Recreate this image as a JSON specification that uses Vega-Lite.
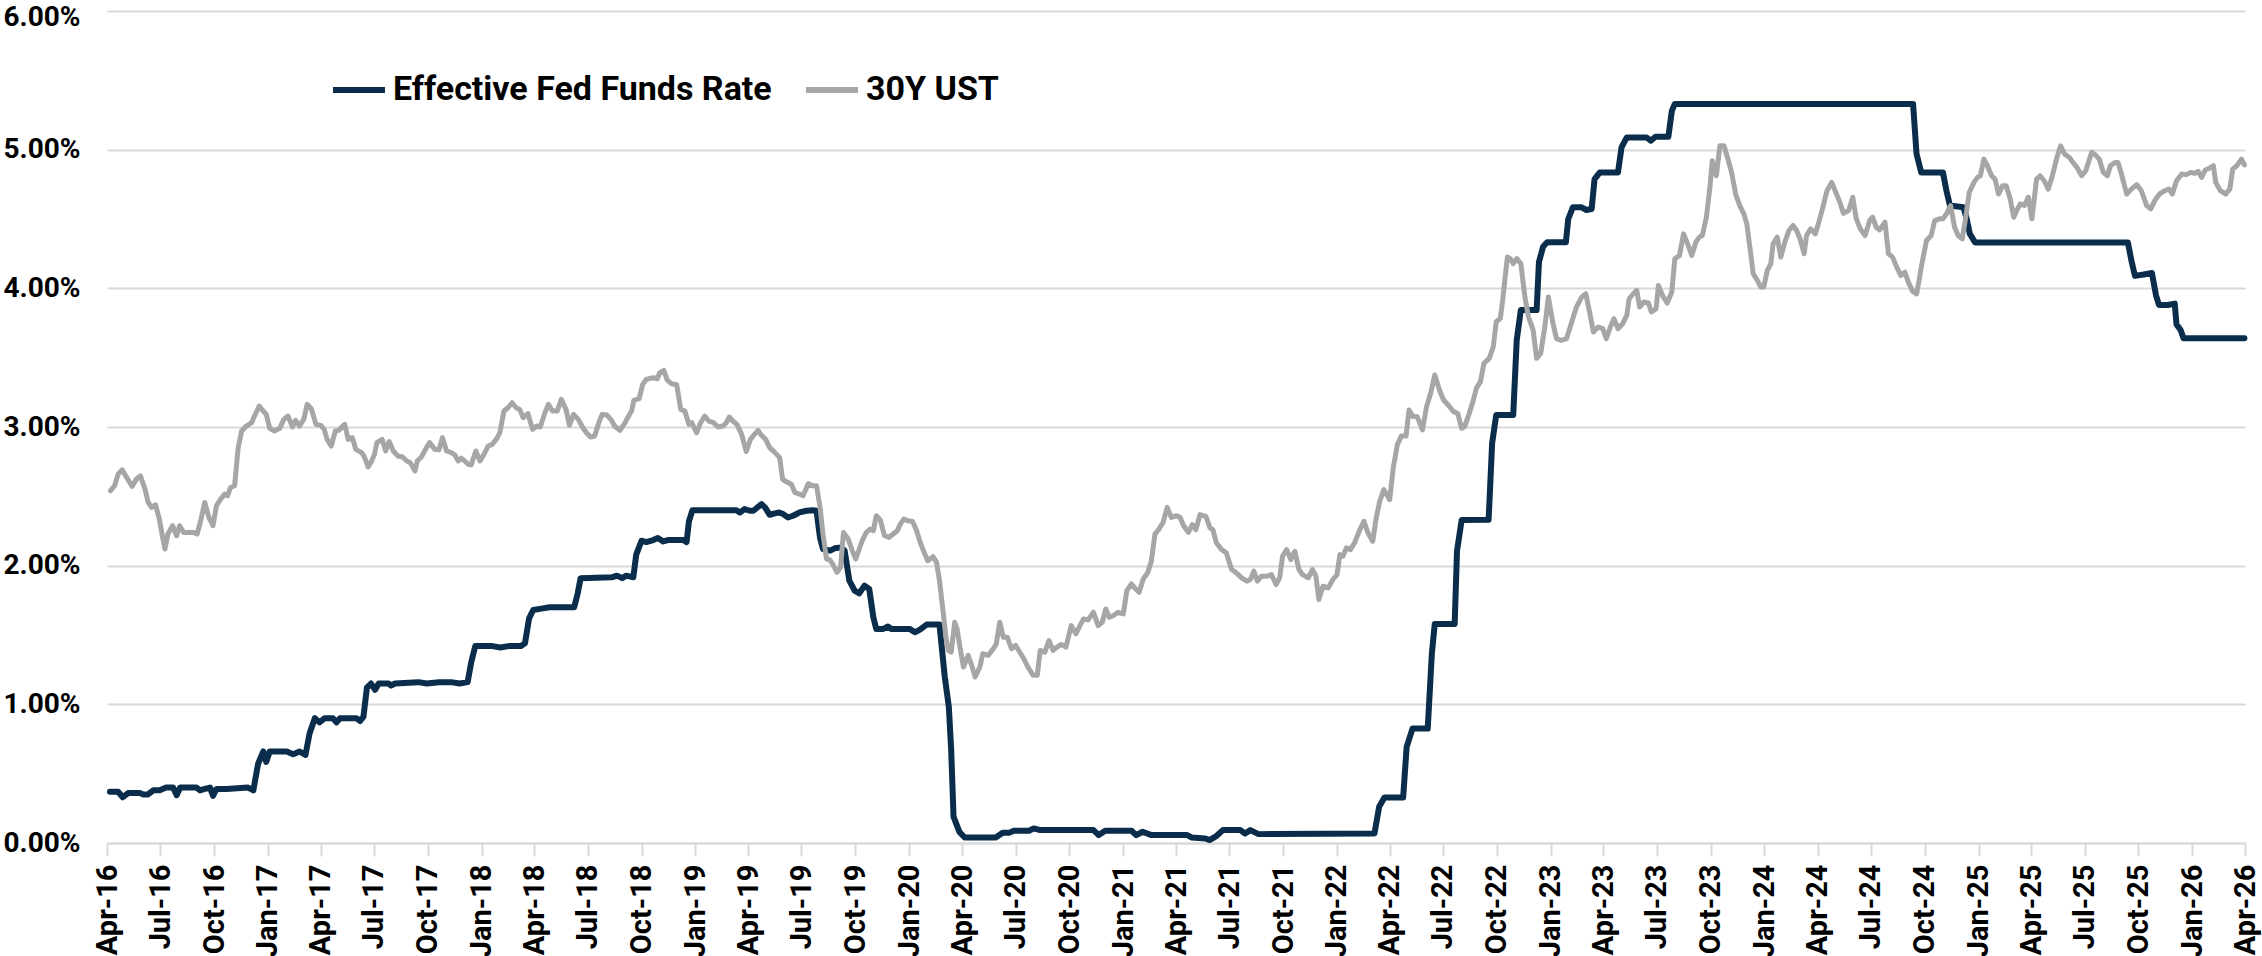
{
"$schema": "https://vega.github.io/schema/vega-lite/v6.json",
"width": 2138, "height": 832,
"autosize": {"type": "none"},
"padding": {"left": 107, "top": 11, "right": 17, "bottom": 113},
"background": "white",
"config": {"view": {"stroke": null}, "font": "Roboto"},
"datasets": {
"fed": [
{"d":"2016-04-06","v":0.37},{"d":"2016-04-20","v":0.37},{"d":"2016-04-28","v":0.33},{"d":"2016-05-07","v":0.36},{"d":"2016-05-27","v":0.36},{"d":"2016-06-02","v":0.35},{"d":"2016-06-10","v":0.35},{"d":"2016-06-19","v":0.38},{"d":"2016-06-30","v":0.38},{"d":"2016-07-11","v":0.40},{"d":"2016-07-23","v":0.40},{"d":"2016-07-29","v":0.345},{"d":"2016-08-04","v":0.40},{"d":"2016-09-01","v":0.40},{"d":"2016-09-07","v":0.38},{"d":"2016-09-15","v":0.39},{"d":"2016-09-24","v":0.40},{"d":"2016-09-29","v":0.34},{"d":"2016-10-05","v":0.39},{"d":"2016-10-22","v":0.39},{"d":"2016-11-28","v":0.40},{"d":"2016-12-07","v":0.38},{"d":"2016-12-15","v":0.57},{"d":"2016-12-24","v":0.66},{"d":"2016-12-29","v":0.585},{"d":"2017-01-04","v":0.66},{"d":"2017-02-02","v":0.66},{"d":"2017-02-13","v":0.64},{"d":"2017-02-24","v":0.66},{"d":"2017-03-06","v":0.635},{"d":"2017-03-13","v":0.79},{"d":"2017-03-22","v":0.90},{"d":"2017-03-30","v":0.87},{"d":"2017-04-08","v":0.90},{"d":"2017-04-22","v":0.90},{"d":"2017-04-28","v":0.87},{"d":"2017-05-04","v":0.90},{"d":"2017-06-01","v":0.90},{"d":"2017-06-07","v":0.88},{"d":"2017-06-13","v":0.91},{"d":"2017-06-19","v":1.12},{"d":"2017-06-26","v":1.15},{"d":"2017-07-03","v":1.105},{"d":"2017-07-09","v":1.15},{"d":"2017-07-26","v":1.15},{"d":"2017-07-30","v":1.135},{"d":"2017-08-06","v":1.15},{"d":"2017-09-15","v":1.16},{"d":"2017-09-29","v":1.15},{"d":"2017-10-20","v":1.16},{"d":"2017-11-10","v":1.16},{"d":"2017-11-24","v":1.15},{"d":"2017-12-08","v":1.16},{"d":"2017-12-14","v":1.30},{"d":"2017-12-21","v":1.42},{"d":"2018-01-19","v":1.42},{"d":"2018-02-02","v":1.41},{"d":"2018-02-16","v":1.42},{"d":"2018-03-09","v":1.42},{"d":"2018-03-16","v":1.44},{"d":"2018-03-23","v":1.62},{"d":"2018-03-30","v":1.68},{"d":"2018-04-13","v":1.69},{"d":"2018-04-27","v":1.70},{"d":"2018-06-08","v":1.70},{"d":"2018-06-14","v":1.80},{"d":"2018-06-19","v":1.91},{"d":"2018-08-11","v":1.916},{"d":"2018-08-20","v":1.928},{"d":"2018-08-29","v":1.91},{"d":"2018-09-05","v":1.928},{"d":"2018-09-17","v":1.916},{"d":"2018-09-22","v":2.08},{"d":"2018-10-01","v":2.18},{"d":"2018-10-09","v":2.17},{"d":"2018-10-21","v":2.185},{"d":"2018-10-29","v":2.20},{"d":"2018-11-07","v":2.175},{"d":"2018-11-15","v":2.185},{"d":"2018-12-11","v":2.185},{"d":"2018-12-17","v":2.17},{"d":"2018-12-21","v":2.32},{"d":"2018-12-27","v":2.40},{"d":"2019-03-12","v":2.40},{"d":"2019-03-18","v":2.383},{"d":"2019-03-26","v":2.408},{"d":"2019-04-04","v":2.396},{"d":"2019-04-10","v":2.396},{"d":"2019-04-24","v":2.444},{"d":"2019-04-30","v":2.42},{"d":"2019-05-08","v":2.367},{"d":"2019-05-17","v":2.377},{"d":"2019-05-24","v":2.384},{"d":"2019-05-31","v":2.372},{"d":"2019-06-08","v":2.348},{"d":"2019-06-17","v":2.36},{"d":"2019-06-28","v":2.384},{"d":"2019-07-10","v":2.396},{"d":"2019-07-21","v":2.40},{"d":"2019-07-27","v":2.396},{"d":"2019-08-02","v":2.20},{"d":"2019-08-07","v":2.12},{"d":"2019-08-19","v":2.108},{"d":"2019-08-27","v":2.125},{"d":"2019-09-07","v":2.132},{"d":"2019-09-13","v":2.108},{"d":"2019-09-21","v":1.892},{"d":"2019-09-30","v":1.82},{"d":"2019-10-08","v":1.801},{"d":"2019-10-17","v":1.856},{"d":"2019-10-25","v":1.832},{"d":"2019-11-01","v":1.628},{"d":"2019-11-06","v":1.544},{"d":"2019-11-18","v":1.544},{"d":"2019-11-26","v":1.561},{"d":"2019-12-02","v":1.544},{"d":"2020-01-02","v":1.544},{"d":"2020-01-11","v":1.52},{"d":"2020-01-19","v":1.537},{"d":"2020-01-31","v":1.575},{"d":"2020-02-22","v":1.575},{"d":"2020-03-02","v":1.20},{"d":"2020-03-09","v":0.98},{"d":"2020-03-13","v":0.67},{"d":"2020-03-17","v":0.19},{"d":"2020-03-27","v":0.08},{"d":"2020-04-05","v":0.04},{"d":"2020-05-28","v":0.04},{"d":"2020-06-09","v":0.074},{"d":"2020-06-20","v":0.074},{"d":"2020-06-28","v":0.088},{"d":"2020-07-24","v":0.088},{"d":"2020-08-01","v":0.105},{"d":"2020-08-12","v":0.093},{"d":"2020-11-11","v":0.093},{"d":"2020-11-20","v":0.057},{"d":"2020-12-01","v":0.088},{"d":"2021-01-15","v":0.088},{"d":"2021-01-23","v":0.057},{"d":"2021-02-03","v":0.081},{"d":"2021-02-18","v":0.057},{"d":"2021-04-20","v":0.057},{"d":"2021-04-28","v":0.04},{"d":"2021-05-21","v":0.033},{"d":"2021-05-28","v":0.021},{"d":"2021-06-09","v":0.05},{"d":"2021-06-20","v":0.093},{"d":"2021-07-20","v":0.093},{"d":"2021-07-28","v":0.069},{"d":"2021-08-06","v":0.093},{"d":"2021-08-20","v":0.064},{"d":"2022-03-06","v":0.069},{"d":"2022-03-14","v":0.261},{"d":"2022-03-23","v":0.328},{"d":"2022-04-24","v":0.328},{"d":"2022-04-30","v":0.693},{"d":"2022-05-10","v":0.825},{"d":"2022-06-05","v":0.825},{"d":"2022-06-12","v":1.364},{"d":"2022-06-17","v":1.58},{"d":"2022-07-21","v":1.58},{"d":"2022-07-25","v":2.107},{"d":"2022-08-02","v":2.33},{"d":"2022-09-17","v":2.332},{"d":"2022-09-23","v":2.883},{"d":"2022-09-30","v":3.087},{"d":"2022-10-29","v":3.087},{"d":"2022-11-04","v":3.627},{"d":"2022-11-11","v":3.843},{"d":"2022-12-08","v":3.843},{"d":"2022-12-12","v":4.19},{"d":"2022-12-19","v":4.30},{"d":"2022-12-26","v":4.333},{"d":"2023-01-27","v":4.333},{"d":"2023-01-31","v":4.50},{"d":"2023-02-08","v":4.585},{"d":"2023-02-22","v":4.585},{"d":"2023-03-03","v":4.565},{"d":"2023-03-12","v":4.572},{"d":"2023-03-17","v":4.788},{"d":"2023-03-26","v":4.836},{"d":"2023-04-26","v":4.836},{"d":"2023-05-02","v":5.016},{"d":"2023-05-11","v":5.088},{"d":"2023-06-14","v":5.088},{"d":"2023-06-21","v":5.064},{"d":"2023-06-29","v":5.093},{"d":"2023-07-21","v":5.093},{"d":"2023-07-27","v":5.28},{"d":"2023-08-01","v":5.33},{"d":"2024-09-11","v":5.33},{"d":"2024-09-17","v":4.968},{"d":"2024-09-25","v":4.836},{"d":"2024-11-01","v":4.836},{"d":"2024-11-07","v":4.705},{"d":"2024-11-13","v":4.597},{"d":"2024-12-06","v":4.585},{"d":"2024-12-11","v":4.513},{"d":"2024-12-17","v":4.393},{"d":"2024-12-26","v":4.33},{"d":"2025-09-13","v":4.33},{"d":"2025-09-19","v":4.20},{"d":"2025-09-25","v":4.09},{"d":"2025-10-10","v":4.10},{"d":"2025-10-24","v":4.11},{"d":"2025-10-31","v":3.95},{"d":"2025-11-05","v":3.88},{"d":"2025-11-20","v":3.88},{"d":"2025-12-02","v":3.89},{"d":"2025-12-05","v":3.74},{"d":"2025-12-12","v":3.70},{"d":"2025-12-17","v":3.64},{"d":"2026-03-31","v":3.64}
],
"ust": [
{"d":"2016-04-07","v":2.54},{"d":"2016-04-14","v":2.576},{"d":"2016-04-20","v":2.66},{"d":"2016-04-27","v":2.691},{"d":"2016-05-04","v":2.64},{"d":"2016-05-14","v":2.571},{"d":"2016-05-21","v":2.623},{"d":"2016-05-28","v":2.647},{"d":"2016-06-05","v":2.552},{"d":"2016-06-10","v":2.46},{"d":"2016-06-16","v":2.42},{"d":"2016-06-23","v":2.439},{"d":"2016-06-30","v":2.324},{"d":"2016-07-04","v":2.228},{"d":"2016-07-09","v":2.12},{"d":"2016-07-14","v":2.228},{"d":"2016-07-22","v":2.288},{"d":"2016-07-29","v":2.216},{"d":"2016-08-03","v":2.288},{"d":"2016-08-10","v":2.24},{"d":"2016-08-17","v":2.24},{"d":"2016-08-26","v":2.24},{"d":"2016-09-02","v":2.228},{"d":"2016-09-08","v":2.324},{"d":"2016-09-15","v":2.456},{"d":"2016-09-22","v":2.348},{"d":"2016-09-29","v":2.288},{"d":"2016-10-05","v":2.432},{"d":"2016-10-12","v":2.48},{"d":"2016-10-19","v":2.516},{"d":"2016-10-24","v":2.504},{"d":"2016-10-29","v":2.564},{"d":"2016-11-05","v":2.576},{"d":"2016-11-11","v":2.851},{"d":"2016-11-17","v":2.971},{"d":"2016-11-25","v":3.007},{"d":"2016-12-04","v":3.031},{"d":"2016-12-09","v":3.079},{"d":"2016-12-17","v":3.151},{"d":"2016-12-24","v":3.115},{"d":"2016-12-29","v":3.091},{"d":"2017-01-04","v":2.99},{"d":"2017-01-12","v":2.971},{"d":"2017-01-21","v":2.99},{"d":"2017-01-28","v":3.055},{"d":"2017-02-04","v":3.079},{"d":"2017-02-12","v":3.0},{"d":"2017-02-17","v":3.048},{"d":"2017-02-24","v":3.007},{"d":"2017-03-03","v":3.055},{"d":"2017-03-09","v":3.163},{"d":"2017-03-16","v":3.132},{"d":"2017-03-24","v":3.019},{"d":"2017-04-01","v":3.012},{"d":"2017-04-07","v":2.983},{"d":"2017-04-12","v":2.911},{"d":"2017-04-19","v":2.863},{"d":"2017-04-26","v":2.971},{"d":"2017-05-02","v":2.976},{"d":"2017-05-12","v":3.019},{"d":"2017-05-18","v":2.911},{"d":"2017-05-25","v":2.923},{"d":"2017-05-31","v":2.839},{"d":"2017-06-10","v":2.815},{"d":"2017-06-14","v":2.791},{"d":"2017-06-21","v":2.712},{"d":"2017-06-27","v":2.755},{"d":"2017-07-02","v":2.803},{"d":"2017-07-06","v":2.887},{"d":"2017-07-15","v":2.911},{"d":"2017-07-21","v":2.827},{"d":"2017-07-27","v":2.895},{"d":"2017-08-03","v":2.827},{"d":"2017-08-11","v":2.791},{"d":"2017-08-19","v":2.784},{"d":"2017-08-26","v":2.755},{"d":"2017-09-01","v":2.743},{"d":"2017-09-09","v":2.683},{"d":"2017-09-13","v":2.755},{"d":"2017-09-20","v":2.784},{"d":"2017-09-27","v":2.839},{"d":"2017-10-04","v":2.887},{"d":"2017-10-13","v":2.839},{"d":"2017-10-20","v":2.835},{"d":"2017-10-26","v":2.923},{"d":"2017-11-02","v":2.827},{"d":"2017-11-10","v":2.815},{"d":"2017-11-16","v":2.799},{"d":"2017-11-22","v":2.755},{"d":"2017-11-27","v":2.775},{"d":"2017-12-03","v":2.755},{"d":"2017-12-09","v":2.731},
{"d":"2017-12-14","v":2.727},{"d":"2017-12-22","v":2.827},{"d":"2017-12-29","v":2.755},{"d":"2018-01-05","v":2.803},{"d":"2018-01-12","v":2.863},{"d":"2018-01-19","v":2.875},{"d":"2018-01-26","v":2.911},{"d":"2018-02-01","v":2.959},{"d":"2018-02-08","v":3.115},{"d":"2018-02-15","v":3.139},{"d":"2018-02-22","v":3.175},{"d":"2018-03-01","v":3.139},{"d":"2018-03-07","v":3.127},{"d":"2018-03-13","v":3.067},{"d":"2018-03-21","v":3.096},{"d":"2018-03-29","v":2.983},{"d":"2018-04-05","v":3.007},{"d":"2018-04-11","v":3.0},{"d":"2018-04-19","v":3.103},{"d":"2018-04-25","v":3.163},{"d":"2018-05-02","v":3.115},{"d":"2018-05-10","v":3.115},{"d":"2018-05-17","v":3.199},{"d":"2018-05-25","v":3.127},{"d":"2018-05-31","v":3.012},{"d":"2018-06-07","v":3.091},{"d":"2018-06-15","v":3.055},{"d":"2018-06-22","v":3.0},{"d":"2018-06-29","v":2.959},{"d":"2018-07-06","v":2.928},{"d":"2018-07-13","v":2.935},{"d":"2018-07-21","v":3.043},{"d":"2018-07-26","v":3.091},{"d":"2018-08-03","v":3.086},{"d":"2018-08-11","v":3.048},{"d":"2018-08-16","v":3.007},{"d":"2018-08-25","v":2.976},{"d":"2018-09-02","v":3.024},{"d":"2018-09-08","v":3.072},{"d":"2018-09-14","v":3.115},{"d":"2018-09-18","v":3.192},{"d":"2018-09-27","v":3.204},{"d":"2018-10-03","v":3.307},{"d":"2018-10-09","v":3.343},{"d":"2018-10-15","v":3.35},{"d":"2018-10-22","v":3.355},{"d":"2018-10-28","v":3.348},{"d":"2018-11-01","v":3.391},{"d":"2018-11-08","v":3.408},{"d":"2018-11-14","v":3.338},{"d":"2018-11-21","v":3.312},{"d":"2018-11-30","v":3.307},{"d":"2018-12-07","v":3.127},{"d":"2018-12-14","v":3.115},{"d":"2018-12-21","v":3.019},{"d":"2018-12-26","v":3.031},{"d":"2019-01-03","v":2.959},{"d":"2019-01-10","v":3.031},{"d":"2019-01-17","v":3.079},{"d":"2019-01-24","v":3.043},{"d":"2019-02-01","v":3.031},{"d":"2019-02-09","v":3.0},{"d":"2019-02-17","v":3.007},{"d":"2019-02-23","v":3.031},{"d":"2019-02-28","v":3.072},{"d":"2019-03-06","v":3.043},{"d":"2019-03-13","v":3.019},{"d":"2019-03-21","v":2.947},{"d":"2019-03-29","v":2.823},{"d":"2019-04-05","v":2.911},{"d":"2019-04-12","v":2.947},{"d":"2019-04-18","v":2.976},{"d":"2019-04-24","v":2.94},{"d":"2019-05-01","v":2.911},{"d":"2019-05-08","v":2.851},{"d":"2019-05-17","v":2.815},{"d":"2019-05-25","v":2.779},{"d":"2019-05-30","v":2.623},{"d":"2019-06-08","v":2.599},{"d":"2019-06-14","v":2.587},{"d":"2019-06-20","v":2.527},{"d":"2019-06-28","v":2.516},{"d":"2019-07-04","v":2.504},{"d":"2019-07-13","v":2.592},{"d":"2019-07-20","v":2.576},{"d":"2019-07-27","v":2.576},{"d":"2019-08-02","v":2.42},{"d":"2019-08-07","v":2.228},
{"d":"2019-08-13","v":2.048},{"d":"2019-08-19","v":2.041},{"d":"2019-08-25","v":2.0},{"d":"2019-08-31","v":1.952},{"d":"2019-09-06","v":1.988},{"d":"2019-09-11","v":2.24},{"d":"2019-09-19","v":2.192},{"d":"2019-09-26","v":2.108},{"d":"2019-10-02","v":2.048},{"d":"2019-10-08","v":2.12},{"d":"2019-10-13","v":2.18},{"d":"2019-10-20","v":2.24},{"d":"2019-10-27","v":2.264},{"d":"2019-11-01","v":2.252},{"d":"2019-11-06","v":2.36},{"d":"2019-11-13","v":2.329},{"d":"2019-11-20","v":2.216},{"d":"2019-11-28","v":2.204},{"d":"2019-12-05","v":2.228},{"d":"2019-12-12","v":2.252},{"d":"2019-12-17","v":2.30},{"d":"2019-12-23","v":2.336},{"d":"2019-12-30","v":2.324},{"d":"2020-01-07","v":2.319},{"d":"2020-01-14","v":2.252},{"d":"2020-01-20","v":2.168},{"d":"2020-01-28","v":2.084},{"d":"2020-02-02","v":2.036},{"d":"2020-02-11","v":2.065},{"d":"2020-02-17","v":2.024},{"d":"2020-02-22","v":1.892},{"d":"2020-02-28","v":1.676},{"d":"2020-03-04","v":1.484},{"d":"2020-03-08","v":1.389},{"d":"2020-03-13","v":1.377},{"d":"2020-03-19","v":1.592},{"d":"2020-03-23","v":1.544},{"d":"2020-03-28","v":1.412},{"d":"2020-04-03","v":1.269},{"d":"2020-04-11","v":1.353},{"d":"2020-04-17","v":1.281},{"d":"2020-04-23","v":1.197},{"d":"2020-05-01","v":1.269},{"d":"2020-05-06","v":1.365},{"d":"2020-05-15","v":1.353},{"d":"2020-05-24","v":1.401},{"d":"2020-05-29","v":1.436},{"d":"2020-06-04","v":1.592},{"d":"2020-06-10","v":1.484},{"d":"2020-06-17","v":1.484},{"d":"2020-06-24","v":1.401},{"d":"2020-07-01","v":1.425},{"d":"2020-07-08","v":1.377},{"d":"2020-07-15","v":1.329},{"d":"2020-07-22","v":1.269},{"d":"2020-07-31","v":1.209},{"d":"2020-08-07","v":1.209},{"d":"2020-08-12","v":1.389},{"d":"2020-08-20","v":1.377},{"d":"2020-08-27","v":1.46},{"d":"2020-09-03","v":1.389},{"d":"2020-09-10","v":1.413},{"d":"2020-09-17","v":1.432},{"d":"2020-09-25","v":1.413},{"d":"2020-10-04","v":1.568},{"d":"2020-10-12","v":1.508},{"d":"2020-10-19","v":1.568},{"d":"2020-10-25","v":1.616},{"d":"2020-11-02","v":1.609},{"d":"2020-11-11","v":1.664},{"d":"2020-11-19","v":1.568},{"d":"2020-11-26","v":1.592},{"d":"2020-12-02","v":1.688},{"d":"2020-12-08","v":1.628},{"d":"2020-12-15","v":1.64},{"d":"2020-12-23","v":1.664},{"d":"2021-01-01","v":1.652},{"d":"2021-01-07","v":1.82},{"d":"2021-01-15","v":1.868},{"d":"2021-01-22","v":1.832},{"d":"2021-01-28","v":1.808},{"d":"2021-02-04","v":1.904},{"d":"2021-02-12","v":1.952},{"d":"2021-02-18","v":2.036},{"d":"2021-02-24","v":2.228},{"d":"2021-03-03","v":2.264},{"d":"2021-03-10","v":2.312},{"d":"2021-03-17","v":2.42},{"d":"2021-03-24","v":2.348},{"d":"2021-04-02","v":2.36},{"d":"2021-04-08","v":2.348},{"d":"2021-04-14","v":2.288},{"d":"2021-04-22","v":2.24},
{"d":"2021-04-29","v":2.296},{"d":"2021-05-05","v":2.26},{"d":"2021-05-12","v":2.368},{"d":"2021-05-22","v":2.356},{"d":"2021-05-29","v":2.272},{"d":"2021-06-03","v":2.26},{"d":"2021-06-09","v":2.164},{"d":"2021-06-18","v":2.116},{"d":"2021-06-26","v":2.092},{"d":"2021-07-05","v":1.972},{"d":"2021-07-13","v":1.948},{"d":"2021-07-22","v":1.912},{"d":"2021-07-31","v":1.888},{"d":"2021-08-06","v":1.90},{"d":"2021-08-12","v":1.96},{"d":"2021-08-18","v":1.888},{"d":"2021-08-25","v":1.924},{"d":"2021-09-04","v":1.924},{"d":"2021-09-11","v":1.936},{"d":"2021-09-19","v":1.864},{"d":"2021-09-25","v":1.912},{"d":"2021-09-30","v":2.068},{"d":"2021-10-07","v":2.116},{"d":"2021-10-14","v":2.044},{"d":"2021-10-21","v":2.104},{"d":"2021-10-28","v":1.972},{"d":"2021-11-03","v":1.936},{"d":"2021-11-13","v":1.912},{"d":"2021-11-20","v":1.972},{"d":"2021-11-26","v":1.924},{"d":"2021-12-01","v":1.756},{"d":"2021-12-08","v":1.852},{"d":"2021-12-17","v":1.84},{"d":"2021-12-25","v":1.90},{"d":"2022-01-01","v":1.936},{"d":"2022-01-06","v":2.08},{"d":"2022-01-11","v":2.068},{"d":"2022-01-17","v":2.128},{"d":"2022-01-24","v":2.116},{"d":"2022-01-31","v":2.164},{"d":"2022-02-09","v":2.26},{"d":"2022-02-16","v":2.32},{"d":"2022-02-23","v":2.236},{"d":"2022-03-03","v":2.176},{"d":"2022-03-09","v":2.344},{"d":"2022-03-15","v":2.464},{"d":"2022-03-22","v":2.548},{"d":"2022-04-01","v":2.476},{"d":"2022-04-07","v":2.703},{"d":"2022-04-14","v":2.871},{"d":"2022-04-21","v":2.936},{"d":"2022-04-29","v":2.936},{"d":"2022-05-04","v":3.123},{"d":"2022-05-11","v":3.075},{"d":"2022-05-18","v":3.075},{"d":"2022-05-27","v":2.979},{"d":"2022-06-03","v":3.147},{"d":"2022-06-10","v":3.243},{"d":"2022-06-17","v":3.375},{"d":"2022-06-25","v":3.267},{"d":"2022-07-02","v":3.195},{"d":"2022-07-10","v":3.159},{"d":"2022-07-19","v":3.111},{"d":"2022-07-26","v":3.099},{"d":"2022-08-02","v":2.991},{"d":"2022-08-07","v":3.003},{"d":"2022-08-15","v":3.099},{"d":"2022-08-22","v":3.195},{"d":"2022-08-27","v":3.279},{"d":"2022-09-03","v":3.327},{"d":"2022-09-09","v":3.459},{"d":"2022-09-18","v":3.495},{"d":"2022-09-25","v":3.579},{"d":"2022-09-30","v":3.759},{"d":"2022-10-07","v":3.783},{"d":"2022-10-11","v":3.914},{"d":"2022-10-15","v":4.07},{"d":"2022-10-19","v":4.226},{"d":"2022-10-24","v":4.214},{"d":"2022-10-29","v":4.178},{"d":"2022-11-04","v":4.214},{"d":"2022-11-11","v":4.178},{"d":"2022-11-18","v":3.938},{"d":"2022-11-24","v":3.795},{"d":"2022-12-02","v":3.699},{"d":"2022-12-08","v":3.495},{"d":"2022-12-15","v":3.531},{"d":"2022-12-22","v":3.723},{"d":"2022-12-28","v":3.938},
{"d":"2023-01-05","v":3.745},{"d":"2023-01-11","v":3.637},{"d":"2023-01-19","v":3.625},{"d":"2023-01-28","v":3.637},{"d":"2023-02-05","v":3.745},{"d":"2023-02-14","v":3.865},{"d":"2023-02-23","v":3.937},{"d":"2023-03-02","v":3.961},{"d":"2023-03-09","v":3.817},{"d":"2023-03-15","v":3.685},{"d":"2023-03-23","v":3.721},{"d":"2023-03-31","v":3.709},{"d":"2023-04-06","v":3.637},{"d":"2023-04-13","v":3.721},{"d":"2023-04-19","v":3.781},{"d":"2023-04-26","v":3.709},{"d":"2023-05-04","v":3.745},{"d":"2023-05-11","v":3.805},{"d":"2023-05-15","v":3.925},{"d":"2023-05-22","v":3.961},{"d":"2023-05-28","v":3.985},{"d":"2023-06-02","v":3.865},{"d":"2023-06-09","v":3.901},{"d":"2023-06-17","v":3.894},{"d":"2023-06-22","v":3.829},{"d":"2023-06-30","v":3.853},{"d":"2023-07-04","v":4.021},{"d":"2023-07-11","v":3.949},{"d":"2023-07-19","v":3.894},{"d":"2023-07-27","v":3.973},{"d":"2023-08-01","v":4.213},{"d":"2023-08-09","v":4.237},{"d":"2023-08-16","v":4.393},{"d":"2023-08-24","v":4.309},{"d":"2023-08-30","v":4.237},{"d":"2023-09-06","v":4.333},{"d":"2023-09-12","v":4.369},{"d":"2023-09-17","v":4.381},{"d":"2023-09-24","v":4.513},{"d":"2023-09-30","v":4.728},{"d":"2023-10-04","v":4.92},{"d":"2023-10-11","v":4.812},{"d":"2023-10-17","v":5.028},{"d":"2023-10-24","v":5.028},{"d":"2023-10-30","v":4.944},{"d":"2023-11-06","v":4.836},{"d":"2023-11-13","v":4.68},{"d":"2023-11-20","v":4.597},{"d":"2023-11-27","v":4.537},{"d":"2023-12-02","v":4.465},{"d":"2023-12-08","v":4.273},{"d":"2023-12-13","v":4.105},{"d":"2023-12-20","v":4.057},{"d":"2023-12-26","v":4.009},{"d":"2023-12-31","v":4.009},{"d":"2024-01-06","v":4.129},{"d":"2024-01-12","v":4.177},{"d":"2024-01-16","v":4.321},{"d":"2024-01-23","v":4.369},{"d":"2024-01-29","v":4.225},{"d":"2024-02-05","v":4.333},{"d":"2024-02-12","v":4.417},{"d":"2024-02-19","v":4.453},{"d":"2024-02-25","v":4.417},{"d":"2024-03-02","v":4.357},{"d":"2024-03-09","v":4.249},{"d":"2024-03-13","v":4.381},{"d":"2024-03-20","v":4.429},{"d":"2024-03-28","v":4.393},{"d":"2024-04-03","v":4.477},{"d":"2024-04-10","v":4.585},{"d":"2024-04-17","v":4.704},{"d":"2024-04-25","v":4.764},{"d":"2024-05-02","v":4.692},{"d":"2024-05-10","v":4.609},{"d":"2024-05-15","v":4.541},{"d":"2024-05-24","v":4.561},{"d":"2024-05-31","v":4.657},{"d":"2024-06-06","v":4.501},{"d":"2024-06-13","v":4.429},{"d":"2024-06-21","v":4.381},{"d":"2024-06-29","v":4.489},{"d":"2024-07-04","v":4.513},{"d":"2024-07-10","v":4.441},{"d":"2024-07-16","v":4.421},{"d":"2024-07-25","v":4.477},{"d":"2024-07-31","v":4.249},{"d":"2024-08-07","v":4.225},{"d":"2024-08-14","v":4.153},{"d":"2024-08-21","v":4.093},{"d":"2024-08-28","v":4.117},{"d":"2024-09-03","v":4.045},{"d":"2024-09-10","v":3.98},{"d":"2024-09-17","v":3.96},{"d":"2024-09-21","v":4.05},
{"d":"2024-09-25","v":4.153},{"d":"2024-10-04","v":4.345},{"d":"2024-10-12","v":4.381},{"d":"2024-10-18","v":4.489},{"d":"2024-10-26","v":4.501},{"d":"2024-11-01","v":4.501},{"d":"2024-11-07","v":4.537},{"d":"2024-11-14","v":4.597},{"d":"2024-11-21","v":4.441},{"d":"2024-11-27","v":4.381},{"d":"2024-12-04","v":4.357},{"d":"2024-12-10","v":4.513},{"d":"2024-12-16","v":4.692},{"d":"2024-12-24","v":4.764},{"d":"2024-12-30","v":4.80},{"d":"2025-01-04","v":4.812},{"d":"2025-01-10","v":4.932},{"d":"2025-01-16","v":4.884},{"d":"2025-01-23","v":4.812},{"d":"2025-01-29","v":4.788},{"d":"2025-02-04","v":4.68},{"d":"2025-02-11","v":4.74},{"d":"2025-02-17","v":4.74},{"d":"2025-02-24","v":4.644},{"d":"2025-03-02","v":4.513},{"d":"2025-03-07","v":4.561},{"d":"2025-03-13","v":4.609},{"d":"2025-03-20","v":4.597},{"d":"2025-03-27","v":4.657},{"d":"2025-04-02","v":4.501},{"d":"2025-04-10","v":4.788},{"d":"2025-04-16","v":4.812},{"d":"2025-04-23","v":4.776},{"d":"2025-04-30","v":4.716},{"d":"2025-05-07","v":4.812},{"d":"2025-05-14","v":4.932},{"d":"2025-05-21","v":5.028},{"d":"2025-05-28","v":4.968},{"d":"2025-06-05","v":4.944},{"d":"2025-06-11","v":4.908},{"d":"2025-06-18","v":4.872},{"d":"2025-06-26","v":4.812},{"d":"2025-07-03","v":4.848},{"d":"2025-07-13","v":4.98},{"d":"2025-07-18","v":4.968},{"d":"2025-07-26","v":4.932},{"d":"2025-08-02","v":4.836},{"d":"2025-08-09","v":4.812},{"d":"2025-08-14","v":4.884},{"d":"2025-08-22","v":4.908},{"d":"2025-08-27","v":4.908},{"d":"2025-09-02","v":4.824},{"d":"2025-09-11","v":4.68},{"d":"2025-09-19","v":4.716},{"d":"2025-09-28","v":4.748},{"d":"2025-10-06","v":4.704},{"d":"2025-10-15","v":4.597},{"d":"2025-10-22","v":4.573},{"d":"2025-10-29","v":4.633},{"d":"2025-11-07","v":4.685},{"d":"2025-11-15","v":4.704},{"d":"2025-11-22","v":4.716},{"d":"2025-11-28","v":4.68},{"d":"2025-12-05","v":4.776},{"d":"2025-12-14","v":4.824},{"d":"2025-12-22","v":4.82},{"d":"2025-12-29","v":4.836},{"d":"2026-01-05","v":4.829},{"d":"2026-01-11","v":4.844},{"d":"2026-01-17","v":4.80},{"d":"2026-01-23","v":4.853},{"d":"2026-01-31","v":4.868},{"d":"2026-02-06","v":4.884},{"d":"2026-02-10","v":4.764},{"d":"2026-02-18","v":4.704},{"d":"2026-02-27","v":4.68},{"d":"2026-03-06","v":4.716},{"d":"2026-03-11","v":4.86},{"d":"2026-03-18","v":4.884},{"d":"2026-03-26","v":4.932},{"d":"2026-03-31","v":4.89}
]
},
"encoding": {
  "x": {"field": "d", "type": "temporal",
    "scale": {"type": "utc", "domain": [{"year": 2016, "month": 4, "date": 1, "utc": true}, {"year": 2026, "month": 4, "date": 1, "utc": true}]},
    "axis": {"title": null, "format": "%b-%y", "tickCount": {"interval": "month", "step": 3},
      "labelAngle": -90, "labelFont": "Roboto", "labelFontWeight": "bold", "labelFontSize": 29, "labelColor": "#000000",
      "labelPadding": 8, "tickSize": 13, "tickColor": "#D9D9D9", "tickWidth": 2, "domainColor": "#D9D9D9", "domainWidth": 2,
      "grid": false, "labelOverlap": false, "labelFlush": false, "labelBound": false}},
  "y": {"field": "v", "type": "quantitative",
    "scale": {"domain": [0, 6], "nice": false, "zero": true},
    "axis": {"title": null, "values": [0, 1, 2, 3, 4, 5, 6], "labelExpr": "format(datum.value, '.2f') + '%'",
      "labelFont": "Roboto", "labelFontWeight": "bold", "labelFontSize": 28, "labelColor": "#000000", "labelPadding": 27,
      "labelOffset": {"condition": {"test": "datum.value == 6", "value": 6}, "value": 0},
      "ticks": false, "domain": false, "grid": true, "gridColor": "#D9D9D9", "gridWidth": 2}}
},
"layer": [
  {"data": {"name": "fed"},
   "mark": {"type": "line", "strokeWidth": 6, "strokeJoin": "round", "strokeCap": "round"},
   "encoding": {"color": {"datum": "Effective Fed Funds Rate", "type": "nominal",
     "scale": {"domain": ["Effective Fed Funds Rate", "30Y UST"], "range": ["#0A2D4B", "#A6A6A6"]},
     "legend": {"title": null, "orient": "none", "legendX": 223, "legendY": 50, "direction": "horizontal",
       "symbolType": "stroke", "symbolSize": 2700, "symbolStrokeWidth": 6, "labelFont": "Roboto", "labelFontWeight": "bold",
       "labelFontSize": 34, "labelColor": "#000000", "labelOffset": 5, "columnPadding": 22, "padding": 0, "labelLimit": 0}}}},
  {"data": {"name": "ust"},
   "mark": {"type": "line", "strokeWidth": 5, "strokeJoin": "round", "strokeCap": "round"},
   "encoding": {"color": {"datum": "30Y UST", "type": "nominal"}}}
]
}
